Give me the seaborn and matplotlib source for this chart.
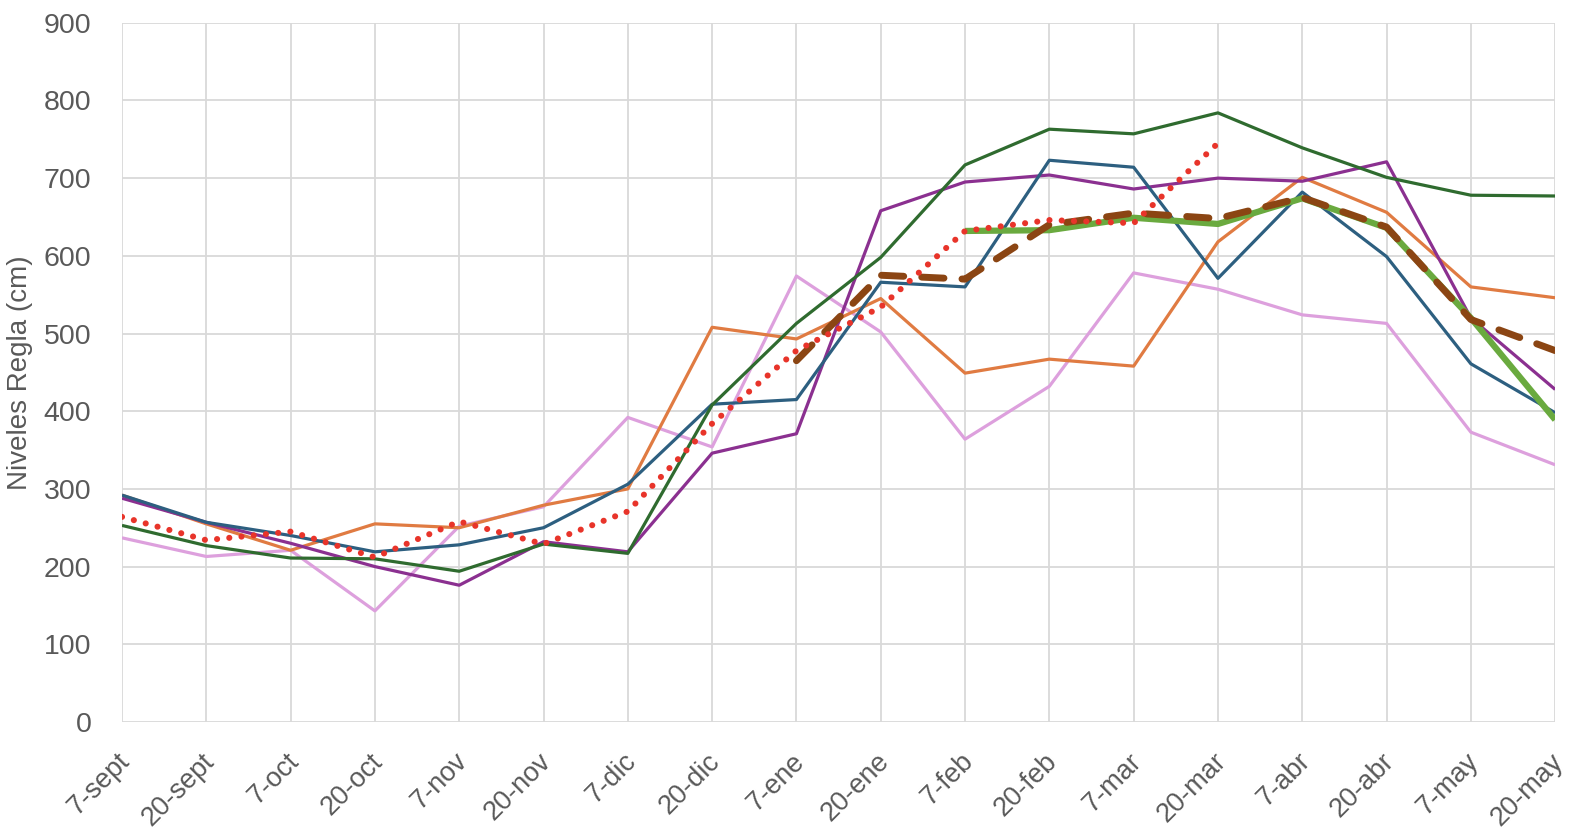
import numpy as np
import pandas as pd
import seaborn as sns
import matplotlib.pyplot as plt
import matplotlib.transforms as mtransforms

# fechas de medicion
fechas = ['7-sept', '20-sept', '7-oct', '20-oct', '7-nov', '20-nov', '7-dic', '20-dic',
          '7-ene', '20-ene', '7-feb', '20-feb', '7-mar', '20-mar', '7-abr', '20-abr',
          '7-may', '20-may']
nan = np.nan

# niveles de regla (cm) por temporada
verde_osc = [253, 227, 211, 210, 194, 229, 217, 408, 513, 598, 717, 763, 757, 784, 739, 701, 678, 677]
azul = [292, 257, 240, 219, 228, 250, 306, 409, 415, 566, 560, 723, 714, 571, 682, 599, 461, 398]
naranja = [292, 255, 221, 255, 250, 279, 300, 508, 493, 545, 449, 467, 458, 618, 701, 656, 560, 546]
morado = [288, 257, 230, 200, 176, 232, 219, 346, 371, 658, 695, 704, 686, 700, 696, 721, 520, 428]
rosa = [237, 213, 221, 143, 252, 277, 392, 354, 574, 502, 364, 432, 578, 557, 524, 513, 373, 331]
rojo = [264, 234, 245, 212, 258, 229, 271, 384, 478, 534, 632, 646, 642, 745, nan, nan, nan, nan]
verde_cl = [nan, nan, nan, nan, nan, nan, nan, nan, nan, nan, 632, 633, 649, 641, 674, 636, 520, 389]
marron = [nan, nan, nan, nan, nan, nan, nan, nan, 465, 575, 570, 640, 655, 648, 675, 637, 518, 478]

series = [
    (rosa, '#dda0dd', 2.3, '-'),
    (naranja, '#e07b42', 2.3, '-'),
    (morado, '#8b3090', 2.3, '-'),
    (azul, '#2d5f80', 2.3, '-'),
    (verde_osc, '#2f6b2f', 2.3, '-'),
    (verde_cl, '#6aaa3f', 4.5, '-'),
    (marron, '#8b4513', 5.0, (0, (3.2, 2.6))),
    (rojo, '#e8342a', 4.4, (0, (0.01, 2.0))),
]

sns.set_style('white')
plt.rcParams['font.family'] = ['Liberation Sans', 'DejaVu Sans']

fig, ax = plt.subplots(figsize=(15.72, 8.36), dpi=100)
fig.subplots_adjust(left=0.0776, right=0.9893, bottom=0.1364, top=0.9728)

for vals, color, lw, ls in series:
    df = pd.DataFrame({'fecha': fechas, 'nivel': vals}).dropna()
    sns.lineplot(data=df, x='fecha', y='nivel', color=color, linewidth=lw, sort=False, ax=ax,
                 linestyle=ls, dash_capstyle='round', solid_capstyle='butt')

ax.set_xlim(0, len(fechas) - 1)
ax.set_ylim(0, 900)
ax.set_yticks(range(0, 901, 100))
ax.set_xticks(range(len(fechas)))
ax.set_xticklabels(fechas, rotation=45, ha='right', rotation_mode='anchor')
ax.grid(True, color='#d9d9d9', linewidth=1.3)
ax.set_axisbelow(True)
for s in ax.spines.values():
    s.set_visible(False)
ax.tick_params(axis='x', length=7, width=1.3, color='#d9d9d9', labelsize=19.5, labelcolor='#595959', pad=12)
ax.tick_params(axis='y', length=0, labelsize=20.5, labelcolor='#595959', pad=22)
ax.set_xlabel('')
ax.set_ylabel('Niveles Regla (cm)', fontsize=20, color='#595959')
ax.yaxis.set_label_coords(-0.062, 0.5)

# nudge the rotated date labels a little to the left
shift = mtransforms.ScaledTranslation(-5 / 100, 0, fig.dpi_scale_trans)
for lab in ax.get_xticklabels():
    lab.set_transform(lab.get_transform() + shift)

fig.savefig('out.png')
